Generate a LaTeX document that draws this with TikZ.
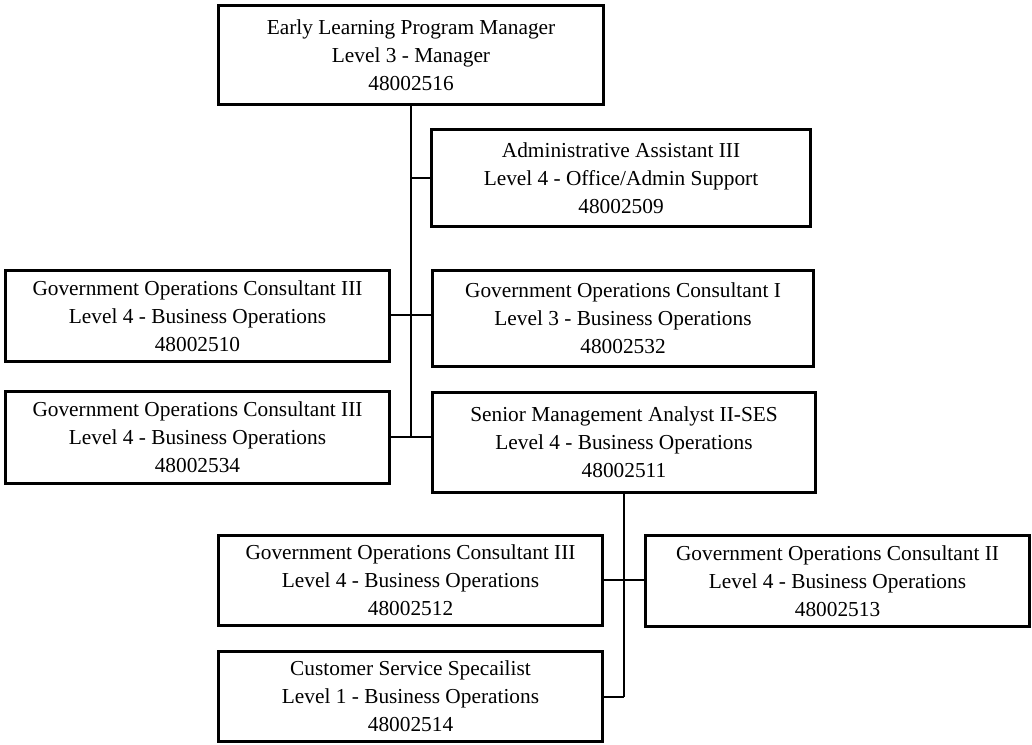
\documentclass[tikz,border=0pt]{standalone}
\usepackage{fontspec}
\setmainfont{Liberation Serif}
\begin{document}
\begin{tikzpicture}[x=0.75pt,y=-0.75pt,
  post/.style 2 args={draw=black, line width=2pt, fill=white, inner sep=0pt,
    align=center, font=\fontsize{16}{21}\selectfont,
    minimum width=#1*0.75pt-2pt, minimum height=#2*0.75pt-2pt},
  link/.style={draw=black, line width=2pt}]
\useasboundingbox (0,0) rectangle (1032,745);

% positions
\node[post={388}{102}] (mgr)  at (411,55)    {Early Learning Program Manager\\Level 3 - Manager\\48002516};
\node[post={382}{100}] (adm)  at (621,178)   {Administrative Assistant III\\Level 4 - Office/Admin Support\\48002509};
\node[post={387}{94}]  (g510) at (197.5,316) {Government Operations Consultant III\\Level 4 - Business Operations\\48002510};
\node[post={384}{99}]  (g532) at (623,318.5) {Government Operations Consultant I\\Level 3 - Business Operations\\48002532};
\node[post={387}{95}]  (g534) at (197.5,437.5) {Government Operations Consultant III\\Level 4 - Business Operations\\48002534};
\node[post={386}{103}] (sma)  at (624,442.5) {Senior Management Analyst II-SES\\Level 4 - Business Operations\\48002511};
\node[post={387}{93}]  (g512) at (410.5,580.5) {Government Operations Consultant III\\Level 4 - Business Operations\\48002512};
\node[post={387}{94}]  (g513) at (837.5,581) {Government Operations Consultant II\\Level 4 - Business Operations\\48002513};
\node[post={387}{93}]  (cust) at (410.5,696.5) {Customer Service Specailist\\Level 1 - Business Operations\\48002514};

% junction points on the trunks
\coordinate (t1) at (411,437);
\coordinate (t2) at (624,697);

% manager trunk and branches
\draw[link] (mgr.south) -- (t1);
\draw[link] (adm.west) -- (adm.west -| t1);
\draw[link] (g510.east |- 0,315) -- (g532.west |- 0,315);
\draw[link] (g534.east |- t1) -- (sma.west |- t1);

% analyst trunk and branches
\draw[link] (sma.south) -- (t2);
\draw[link] (g512.east |- 0,580) -- (g513.west |- 0,580);
\draw[link] (cust.east |- t2) -- (t2);
\end{tikzpicture}
\end{document}
